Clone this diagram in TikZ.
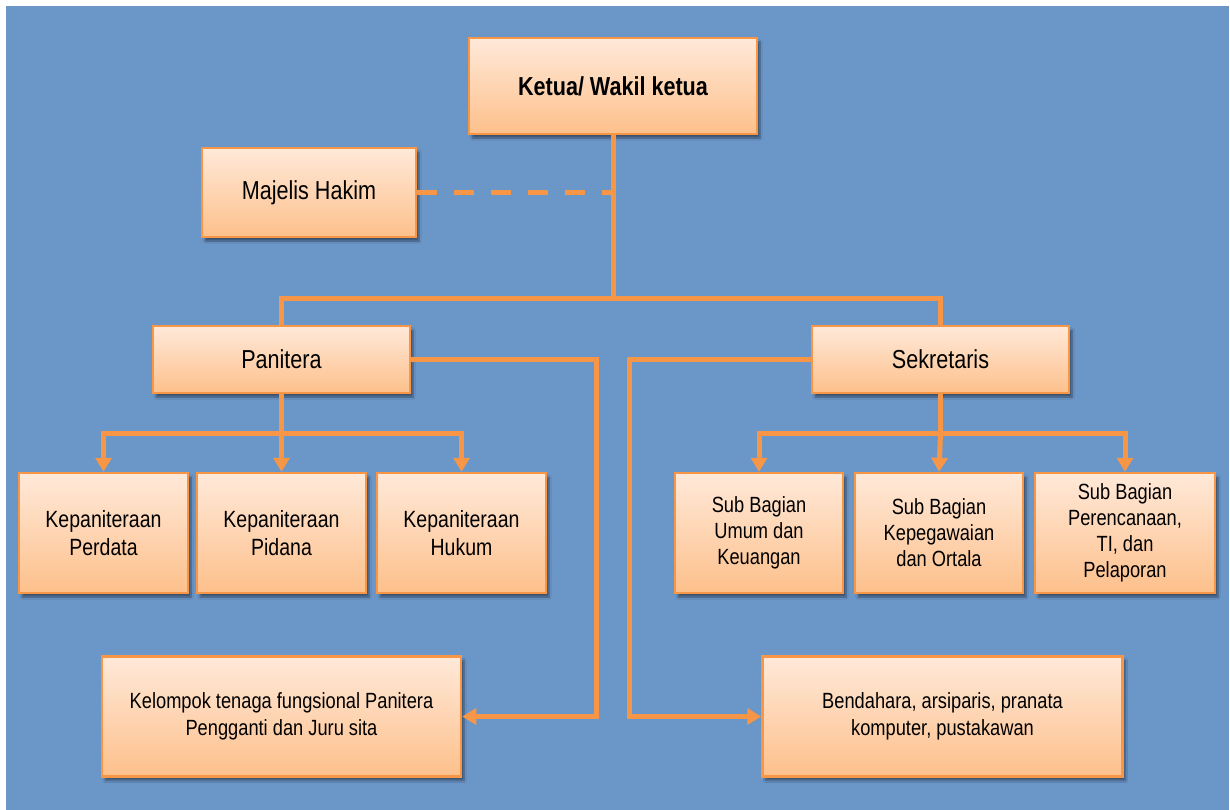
\documentclass[tikz,border=0pt]{standalone}
\usepackage{fontspec}
\setmainfont[FakeStretch=0.83]{Liberation Sans}
\usepackage{xcolor}
\usepackage{tikz}
\usetikzlibrary{positioning}
\usetikzlibrary{arrows.meta, shadows.blur, calc}

\definecolor{bgblue}{HTML}{6B96C8}
\definecolor{boxline}{HTML}{F79646}
\definecolor{boxtop}{HTML}{FFE9D9}
\definecolor{boxbottom}{HTML}{FDC08B}

\tikzset{
    unit/.style={draw=boxline, line width=2.5pt, top color=boxtop, bottom color=boxbottom,
        inner sep=0pt, align=center, text=black,
        blur shadow={shadow xshift=3pt, shadow yshift=-4pt, shadow blur steps=6, shadow opacity=45}},
    bigtext/.style={font=\fontsize{26}{30}\selectfont},
    midtext/.style={font=\fontsize{23.5}{28}\selectfont},
    subtext/.style={font=\fontsize{22}{26}\selectfont},
    lowtext/.style={font=\fontsize{22}{27}\selectfont},
    link/.style={draw=boxline, line width=5pt},
    linkarrow/.style={link, -{Triangle[length=14pt, width=16pt]}}
}

\begin{document}
\begin{tikzpicture}[x=1pt, y=-1pt]
            \useasboundingbox (0,0) rectangle (1230,810);
            \fill[white] (0,0) rectangle (1230,810);
            \fill[bgblue] (6,6) rectangle (1229,810);

            % top level
            \node[unit, minimum width=288pt, minimum height=96pt,
                font=\fontsize{26}{30}\selectfont\bfseries] (ketua) at (613,86) {Ketua/ Wakil ketua};
            \node[unit, bigtext, minimum width=214pt, minimum height=89pt] (majelis) at (309,192.5) {Majelis Hakim};
            \coordinate (hub) at (613,298);

            % second level
            \node[unit, bigtext, minimum width=257pt, minimum height=67pt] (panitera) at (281.5,359.5) {Panitera};
            \node[unit, bigtext, minimum width=257pt, minimum height=67pt] (sekretaris) at (940.5,359.5) {Sekretaris};

            % kepaniteraan
            \node[unit, midtext, minimum width=169pt, minimum height=120pt] (perdata) at (103.5,533) {Kepaniteraan\\Perdata};
            \node[unit, midtext, minimum width=169pt, minimum height=120pt] (pidana) at (281.5,533) {Kepaniteraan\\Pidana};
            \node[unit, midtext, minimum width=169pt, minimum height=120pt] (hukum) at (461.5,533) {Kepaniteraan\\Hukum};

            % sub bagian
            \node[unit, subtext, minimum width=168pt, minimum height=120pt] (umum) at (759,533) {Sub Bagian\\Umum dan\\Keuangan};
            \node[unit, subtext, minimum width=168pt, minimum height=120pt] (kepeg) at (939,533) {Sub Bagian\\Kepegawaian\\dan Ortala};
            \node[unit, subtext, minimum width=180pt, minimum height=120pt] (rencana) at (1125,533) {Sub Bagian\\Perencanaan,\\TI, dan\\Pelaporan};

            % fungsional
            \node[unit, lowtext, minimum width=359pt, minimum height=120pt] (kelompok) at (281.5,716.5) {Kelompok tenaga fungsional Panitera\\Pengganti dan Juru sita};
            \node[unit, lowtext, minimum width=360pt, minimum height=120pt] (bendahara) at (942.5,716.5) {Bendahara, arsiparis, pranata\\komputer, pustakawan};

            \coordinate (pfork) at (281.5,433);
            \coordinate (sfork) at (940.5,433);
            \coordinate (prail) at (596,0);
            \coordinate (srail) at (629,0);

            % connectors
            \draw[link, dash pattern=on 20pt off 17pt] (majelis.east) -- (majelis.east -| hub);
            \draw[link] (ketua.south) -- (hub);
            \draw[link] (panitera.north) |- (hub) -| (sekretaris.north);

            \draw[link] (panitera.south) -- (pfork);
            \draw[linkarrow] (pfork) -| (perdata.north);
            \draw[linkarrow] (pfork) -- (pidana.north);
            \draw[linkarrow] (pfork) -| (hukum.north);

            \draw[link] (sekretaris.south) -- (sfork);
            \draw[linkarrow] (sfork) -| (umum.north);
            \draw[linkarrow] (sfork) -- (kepeg.north);
            \draw[linkarrow] (sfork) -| (rencana.north);

            \draw[linkarrow] (panitera.east) -- (panitera.east -| prail) -- (kelompok.east -| prail) -- (kelompok.east);
            \draw[linkarrow] (sekretaris.west) -- (sekretaris.west -| srail) -- (bendahara.west -| srail) -- (bendahara.west);
        \end{tikzpicture}
\end{document}
